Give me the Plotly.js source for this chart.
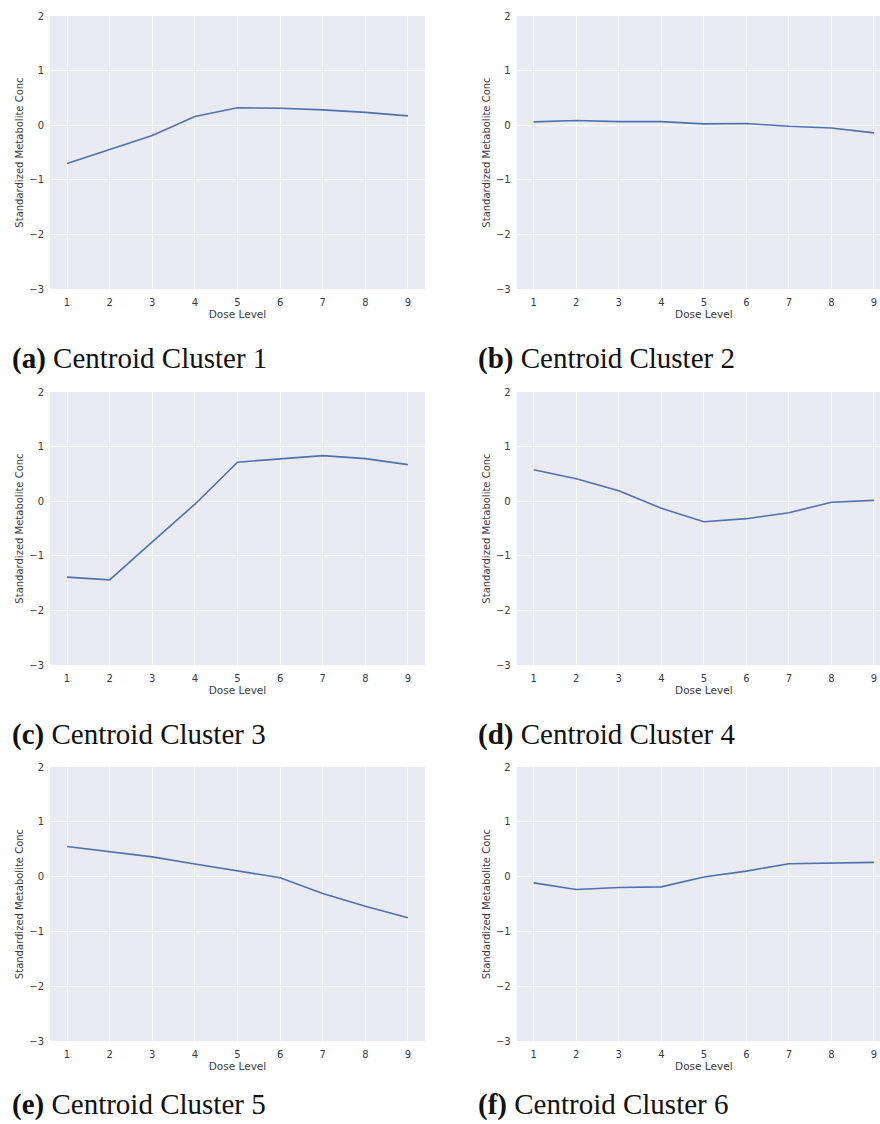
<!DOCTYPE html>
<html>
<head>
<meta charset="utf-8">
<script src="https://cdn.plot.ly/plotly-3.0.1.min.js"></script>
<style>
  html, body { margin: 0; padding: 0; background: #ffffff; overflow: hidden; }
  #chart { width: 892px; height: 1124px; }
</style>
</head>
<body>
<div id="chart"></div>
<script>
// ---- data ----
const doseLevels = [1, 2, 3, 4, 5, 6, 7, 8, 9];
const cluster1 = [-0.70, -0.45, -0.19, 0.16, 0.32, 0.31, 0.28, 0.235, 0.17];
const cluster2 = [0.06, 0.085, 0.065, 0.065, 0.025, 0.03, -0.02, -0.05, -0.14];
const cluster3 = [-1.39, -1.44, -0.745, -0.055, 0.715, 0.78, 0.835, 0.78, 0.67];
const cluster4 = [0.575, 0.41, 0.19, -0.13, -0.375, -0.32, -0.21, -0.02, 0.015];
const cluster5 = [0.55, 0.46, 0.36, 0.23, 0.11, -0.02, -0.31, -0.54, -0.75];
const cluster6 = [-0.115, -0.235, -0.20, -0.187, -0.006, 0.10, 0.235, 0.25, 0.26];
const captionLetters = ["(a)", "(b)", "(c)", "(d)", "(e)", "(f)"];
const captionTexts = ["Centroid Cluster 1", "Centroid Cluster 2", "Centroid Cluster 3",
                      "Centroid Cluster 4", "Centroid Cluster 5", "Centroid Cluster 6"];
const yTickVals = [-3, -2, -1, 0, 1, 2];
const xAxisTitle = "Dose Level";
const yAxisTitle = "Standardized Metabolite Conc";

const series = [cluster1, cluster2, cluster3, cluster4, cluster5, cluster6];

// ---- layout geometry (pixels) ----
const W = 892, H = 1124;
const colPx = [[50, 425], [516.7, 891]];
const rowPx = [[16, 289], [392, 665], [767, 1041]];
const captionY = [358, 734, 1104];
const captionX = [10, 476];

const traces = [];
const layout = {
  width: W, height: H,
  margin: {l: 0, r: 0, t: 0, b: 0},
  paper_bgcolor: "#ffffff",
  plot_bgcolor: "#EAEAF2",
  showlegend: false,
  font: {family: "DejaVu Sans", size: 10, color: "#3a3a3a"},
  annotations: []
};

series.forEach((vals, i) => {
  const row = Math.floor(i / 2), col = i % 2;
  const n = i + 1;
  const sfx = (n === 1 ? "" : String(n));
  traces.push({
    type: "scatter", mode: "lines",
    x: doseLevels, y: vals,
    xaxis: "x" + sfx, yaxis: "y" + sfx,
    line: {color: "#4C72B0", width: 1.6},
    hoverinfo: "x+y"
  });
  layout["xaxis" + sfx] = {
    domain: [colPx[col][0] / W, colPx[col][1] / W],
    anchor: "y" + sfx,
    range: [0.6, 9.4],
    tickvals: doseLevels,
    showgrid: true, gridcolor: "#ffffff", gridwidth: 1,
    zeroline: false, showline: false, ticks: "",
    ticklabelstandoff: 6,
    tickfont: {size: 10, color: "#3a3a3a"},
    title: {text: xAxisTitle, font: {size: 10.5, color: "#3a3a3a"}, standoff: 2},
    fixedrange: true
  };
  layout["yaxis" + sfx] = {
    domain: [1 - rowPx[row][1] / H, 1 - rowPx[row][0] / H],
    anchor: "x" + sfx,
    range: [-3, 2],
    tickvals: yTickVals,
    showgrid: true, gridcolor: "#ffffff", gridwidth: 1,
    zeroline: false, showline: false, ticks: "",
    ticklabelstandoff: 5,
    tickfont: {size: 10, color: "#3a3a3a"},
    title: {text: yAxisTitle, font: {size: 10, color: "#3a3a3a"}, standoff: 3},
    fixedrange: true
  };
  layout.annotations.push({
    xref: "paper", yref: "paper",
    x: captionX[col] / W, y: 1 - captionY[row] / H,
    xanchor: "left", yanchor: "middle",
    showarrow: false,
    text: "<b>" + captionLetters[i] + "</b> " + captionTexts[i],
    font: {family: "Liberation Serif", size: 29, color: "#111111"}
  });
});

Plotly.newPlot("chart", traces, layout, {displayModeBar: false});
</script>
</body>
</html>
